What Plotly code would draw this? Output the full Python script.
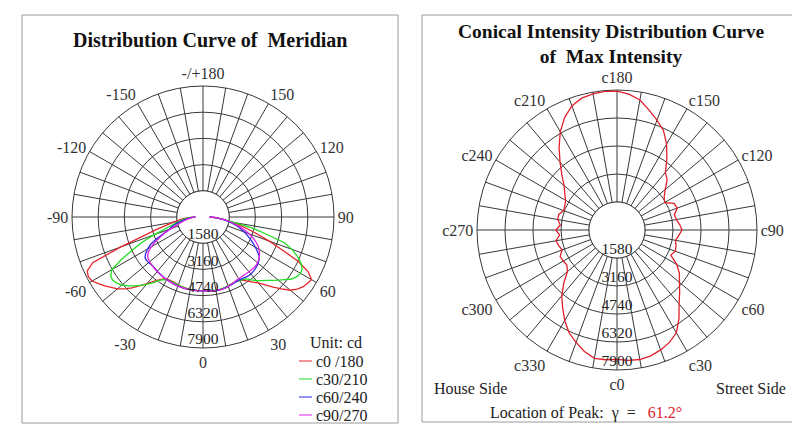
import plotly.graph_objects as go

# ---------------- data ----------------
gamma = [-90, -87.5, -85, -82.5, -80, -77.5, -75, -72.5, -70, -67.5, -65, -62.5, -60, -57.5, -55, -52.5,
         -50, -47.5, -45, -42.5, -40, -37.5, -35, -32.5, -30, -27.5, -25, -22.5, -20, -17.5, -15, -12.5,
         -10, -7.5, -5, -2.5, 0, 2.5, 5, 7.5, 10, 12.5, 15, 17.5, 20, 22.5, 25, 27.5, 30, 32.5, 35, 37.5,
         40, 42.5, 45, 47.5, 50, 52.5, 55, 57.5, 60, 62.5, 65, 67.5, 70, 72.5, 75, 77.5, 80, 82.5, 85, 87.5, 90]

c0_180 = [500, 850, 1200, 1500, 1800, 2250, 2900, 3700, 5300, 7200, 7700, 7800, 7720, 7480, 7230, 6980,
          6750, 6420, 6050, 5620, 5250, 4900, 4620, 4420, 4330, 4300, 4300, 4320, 4350, 4380, 4400, 4420,
          4440, 4450, 4450, 4450, 4450, 4460, 4470, 4480, 4490, 4490, 4480, 4450, 4420, 4390, 4370, 4380,
          4420, 4520, 4720, 4950, 5180, 5550, 5980, 6420, 6870, 7150, 7350, 7460, 7560, 7150, 6350, 5150,
          4250, 3450, 2800, 2250, 1750, 1300, 950, 650, 400]

c30_210 = [500, 800, 1050, 1250, 1420, 1650, 1950, 2450, 3150, 3950, 4700, 5550, 6350, 6600, 6650, 6550,
           6380, 6150, 5880, 5600, 5300, 5000, 4680, 4480, 4380, 4340, 4330, 4340, 4360, 4390, 4410, 4430,
           4440, 4450, 4450, 4450, 4450, 4460, 4470, 4480, 4480, 4480, 4470, 4450, 4420, 4390, 4370, 4380,
           4420, 4480, 4560, 4780, 5000, 5200, 5400, 5660, 5920, 6200, 6520, 6700, 6800, 6740, 6500, 6150,
           5700, 5150, 3900, 3000, 1900, 1400, 1000, 750, 500]

c60_240 = [450, 650, 850, 1050, 1250, 1500, 1750, 2000, 2150, 2550, 3050, 3550, 3850, 4100, 4270, 4300,
           4280, 4250, 4230, 4250, 4280, 4300, 4330, 4350, 4370, 4380, 4400, 4420, 4430, 4440, 4450, 4450,
           4450, 4450, 4450, 4450, 4450, 4460, 4470, 4480, 4490, 4500, 4500, 4480, 4460, 4430, 4400, 4380,
           4380, 4400, 4450, 4480, 4480, 4470, 4440, 4400, 4350, 4250, 4150, 3900, 3650, 3400, 3150, 2900,
           2650, 2400, 2150, 1850, 1550, 1250, 950, 650, 400]

c90_270 = [450, 600, 750, 900, 1050, 1250, 1450, 1700, 2050, 2450, 2850, 3250, 3600, 3900, 4080, 4160,
           4200, 4230, 4250, 4270, 4290, 4310, 4330, 4350, 4370, 4380, 4400, 4410, 4420, 4430, 4440, 4450,
           4450, 4450, 4450, 4450, 4450, 4460, 4470, 4490, 4500, 4510, 4510, 4490, 4450, 4410, 4370, 4320,
           4300, 4290, 4290, 4300, 4310, 4320, 4330, 4330, 4300, 4230, 4150, 4050, 3900, 3740, 3500, 3250,
           2950, 2650, 2300, 1950, 1650, 1350, 1000, 700, 400]

c_angle = [0, 5, 10, 15, 20, 25, 30, 35, 40, 45, 50, 55, 60, 65, 70, 75, 80, 85, 90, 95, 100, 105, 110,
           115, 120, 125, 130, 135, 140, 145, 150, 155, 160, 165, 170, 175, 180, 185, 190, 195, 200, 205,
           210, 215, 220, 225, 230, 235, 240, 245, 250, 255, 260, 265, 270, 275, 280, 285, 290, 295, 300,
           305, 310, 315, 320, 325, 330, 335, 340, 345, 350, 355, 360]

max_intensity = [7300, 7380, 7420, 7350, 7200, 7000, 6700, 6100, 5450, 5000, 4600, 4300, 3900, 3350,
                 3500, 3450, 3350, 3500, 3670, 3550, 3400, 3350, 3620, 3550, 3100, 3250, 3550, 4000,
                 4250, 4900, 5600, 6200, 6600, 7000, 7450, 7700, 7830, 7850, 7800, 7700, 7450, 7000,
                 6400, 5700, 5000, 4400, 3900, 3600, 3350, 3250, 3200, 3400, 3400, 3210, 3450, 3250,
                 3500, 3400, 3300, 3540, 3500, 3450, 3650, 4250, 4850, 5350, 5900, 6400, 6750, 7100,
                 7350, 7350, 7300]

ring_values = [1580, 3160, 4740, 6320, 7900]
ring_labels = ["1580", "3160", "4740", "6320", "7900"]
spoke_angles = [0, 10, 20, 30, 40, 50, 60, 70, 80, 90, 100, 110, 120, 130, 140, 150, 160, 170,
                180, 190, 200, 210, 220, 230, 240, 250, 260, 270, 280, 290, 300, 310, 320, 330, 340, 350]
meridian_labels = {0: "0", 30: "30", 60: "60", 90: "90", 120: "120", 150: "150", 180: "-/+180",
                   210: "-150", 240: "-120", 270: "-90", 300: "-60", 330: "-30"}
conical_labels = {0: "c0", 30: "c30", 60: "c60", 90: "c90", 120: "c120", 150: "c150", 180: "c180",
                  210: "c210", 240: "c240", 270: "c270", 300: "c300", 330: "c330"}
series_names = ["c0 /180", "c30/210", "c60/240", "c90/270"]
legend_title = "Unit: cd"
peak_gamma = "61.2°"

# ---------------- styling ----------------
FONT = "Liberation Serif, Times New Roman, serif"
GRID = "#383838"
series_colors = ["#e4262c", "#22dd22", "#2b2be0", "#e021e0"]
W, H = 800, 426


def px_x(x):
    return x / W


def px_y(y):
    return 1 - y / H


fig = go.Figure()


def add_hole(subplot):
    fig.add_trace(go.Scatterpolar(r=[ring_values[0]] * len(c_angle), theta=c_angle, mode="lines",
                                  fill="toself", fillcolor="white",
                                  line=dict(color=GRID, width=1), hoverinfo="skip",
                                  showlegend=False, subplot=subplot))


def add_ring_labels(subplot):
    fig.add_trace(go.Scatterpolar(r=ring_values, theta=[0] * len(ring_values), mode="text",
                                  text=ring_labels, textposition="top center",
                                  textfont=dict(family=FONT, size=15.5, color="#222"),
                                  hoverinfo="skip", showlegend=False, subplot=subplot))


# left: meridian curves
add_hole("polar")
for name, vals, col in zip(series_names, [c0_180, c30_210, c60_240, c90_270], series_colors):
    fig.add_trace(go.Scatterpolar(r=vals, theta=gamma, mode="lines", name=name,
                                  line=dict(color=col, width=1.3), showlegend=False, subplot="polar"))
add_ring_labels("polar")

# right: conical curve
add_hole("polar2")
fig.add_trace(go.Scatterpolar(r=max_intensity, theta=c_angle, mode="lines", name="max",
                              line=dict(color="#e0202a", width=1.3), showlegend=False,
                              subplot="polar2"))
add_ring_labels("polar2")


def polar_layout(domain_x, domain_y, labels):
    return dict(
        domain=dict(x=domain_x, y=domain_y),
        bgcolor="white",
        radialaxis=dict(range=[0, 7900], tickvals=ring_values, showticklabels=False, ticks="",
                        showline=False, gridcolor=GRID, gridwidth=1, layer="below traces"),
        angularaxis=dict(rotation=270, direction="counterclockwise", tickvals=spoke_angles,
                         ticktext=[labels.get(a, "") for a in spoke_angles], ticks="",
                         showline=True, linecolor=GRID, linewidth=1, gridcolor=GRID, gridwidth=1,
                         layer="below traces",
                         tickfont=dict(family=FONT, size=16, color="#333")),
    )


def ann(text, x, y, size=16, xanchor="center", bold=False, color="#222"):
    return dict(text=f"<b>{text}</b>" if bold else text, x=px_x(x), y=px_y(y), xref="paper",
                yref="paper", xanchor=xanchor, yanchor="middle", showarrow=False,
                font=dict(family=FONT, size=size, color=color))


annotations = [
    ann("Distribution Curve of  Meridian", 202, 32, 20, bold=True, color="#111"),
    ann("Conical Intensity Distribution Curve<br>of  Max Intensity", 603, 36, 19.5, bold=True,
        color="#111"),
    ann("House Side", 424, 380, xanchor="left"),
    ann("Street Side", 780, 380, xanchor="right"),
    ann("Location of Peak:  γ  =   <span style='color:#e0202a'>" + peak_gamma + "</span>", 480, 405,
        xanchor="left"),
    ann(legend_title, 300, 334, xanchor="left"),
]
shapes = [
    dict(type="rect", xref="paper", yref="paper", x0=px_x(14), x1=px_x(390), y0=px_y(415),
         y1=px_y(7), line=dict(color="#9a9a9a", width=1)),
    dict(type="rect", xref="paper", yref="paper", x0=px_x(414), x1=px_x(791), y0=px_y(414),
         y1=px_y(7), line=dict(color="#9a9a9a", width=1)),
]
# legend entries (short coloured line + label)
for i, (name, col) in enumerate(zip(series_names, series_colors)):
    yy = 353 + i * 18
    annotations.append(ann(name, 306, yy, xanchor="left"))
    shapes.append(dict(type="line", xref="paper", yref="paper", x0=px_x(291), x1=px_x(304),
                       y0=px_y(yy), y1=px_y(yy), line=dict(color=col, width=1)))

fig.update_layout(
    width=W, height=H, autosize=False,
    margin=dict(l=0, r=0, t=0, b=0),
    paper_bgcolor="white",
    showlegend=False,
    polar=polar_layout([px_x(195 - 131), px_x(195 + 131)], [px_y(209 + 131), px_y(209 - 131)],
                       meridian_labels),
    polar2=polar_layout([px_x(609 - 140), px_x(609 + 140)], [px_y(222 + 140), px_y(222 - 140)],
                        conical_labels),
    shapes=shapes,
    annotations=annotations,
)

fig.write_html("out.html")
